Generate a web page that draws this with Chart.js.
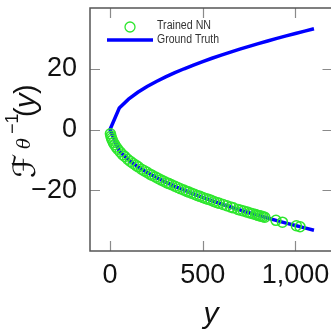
<!DOCTYPE html>
<html lang="en">
<head>
    <meta charset="UTF-8">
    <title>Inverse flow vs ground truth</title>
    <script src="https://cdn.jsdelivr.net/npm/chart.js@4"></script>
    <style>
        html, body { margin: 0; padding: 0; overflow: hidden; background: #fff; }
        /* a bit wider than the window: the right frame edge sits just off-screen */
        #wrap { width: 339px; height: 330px; position: relative; }
    </style>
</head>
<body>
    <div id="wrap"><canvas id="myChart"></canvas></div>
    <script>
        // Trained NN samples (x = y, y = F^-1(y))
        const nnX = [2, 5, 8, 12, 18, 25, 33, 42, 55, 68, 80, 95, 110, 125, 140, 152, 170, 185, 200, 215,
            228, 245, 260, 275, 290, 305, 318, 332, 350, 365, 380, 398, 412, 425, 440, 455, 470, 485, 500, 515,
            530, 545, 560, 575, 590, 610, 630, 650, 665, 690, 705, 720, 740, 755, 770, 785, 795, 805, 815, 825,
            835, 895, 930, 1005, 1025];
        const nnY = [-1.4, -2.2, -2.9, -3.5, -4.3, -5.0, -5.8, -6.5, -7.4, -8.3, -8.9, -9.8, -10.5, -11.2, -11.8, -12.3, -13.1, -13.6, -14.1, -14.7,
            -15.1, -15.6, -16.1, -16.6, -17.0, -17.5, -17.8, -18.2, -18.7, -19.1, -19.5, -19.9, -20.3, -20.6, -21.0, -21.3, -21.7, -22.0, -22.4, -22.7,
            -23.0, -23.3, -23.7, -24.0, -24.3, -24.7, -25.1, -25.5, -25.8, -26.3, -26.6, -26.8, -27.2, -27.5, -27.7, -28.0, -28.2, -28.4, -28.5, -28.7,
            -28.9, -29.9, -30.5, -31.7, -32.0];

        // Ground truth curve, lower branch back to origin then upper branch
        const gtX = [1100, 1050, 1000, 950, 900, 850, 800, 750, 700, 650, 600, 550, 500, 450, 400, 350, 300, 250, 200, 150, 100, 50, 0,
            50, 100, 150, 200, 250, 300, 350, 400, 450, 500, 550, 600, 650, 700, 750, 800, 850, 900, 950, 1000, 1050, 1100];
        const gtY = [-33.17, -32.4, -31.62, -30.82, -30.0, -29.15, -28.28, -27.39, -26.46, -25.5, -24.49, -23.45, -22.36, -21.21, -20.0, -18.71, -17.32, -15.81, -14.14, -12.25, -10.0, -7.07, 0,
            7.07, 10.0, 12.25, 14.14, 15.81, 17.32, 18.71, 20.0, 21.21, 22.36, 23.45, 24.49, 25.5, 26.46, 27.39, 28.28, 29.15, 30.0, 30.82, 31.62, 32.4, 33.17];

        const xTicks = [0, 500, 1000];
        const yTicks = [-20, 0, 20];
        const xRange = [-108, 1200];
        const yRange = [-40, 40];

        const GREEN = '#2ee62e';
        const BLUE = '#0000ff';
        const tickFont = { family: '"Liberation Sans", Arial, sans-serif', size: 27 };

        const toPoints = (xs, ys) => xs.map((x, i) => ({ x: x, y: ys[i] }));

        // chart.js pads the area for end tick labels; we don't want that here
        function noPad(s) {
            s.paddingTop = 0; s.paddingBottom = 0;
            s.paddingLeft = 0; s.paddingRight = 0;
        }

        // frame, inward tick marks, legend and axis titles
        const decorations = {
            id: 'decorations',
            afterDraw(chart) {
                const c = chart.ctx;
                const a = chart.chartArea;
                const xs = chart.scales.x, ys = chart.scales.y;
                c.save();

                // inward ticks on all four sides
                c.strokeStyle = '#8a8a8a';
                c.lineWidth = 1.2;
                c.beginPath();
                xTicks.forEach(v => {
                    const px = Math.round(xs.getPixelForValue(v)) + 0.5;
                    c.moveTo(px, a.bottom); c.lineTo(px, a.bottom - 10);
                    c.moveTo(px, a.top); c.lineTo(px, a.top + 10);
                });
                yTicks.forEach(v => {
                    const py = Math.round(ys.getPixelForValue(v)) + 0.5;
                    c.moveTo(a.left, py); c.lineTo(a.left + 10, py);
                    c.moveTo(a.right, py); c.lineTo(a.right - 10, py);
                });
                c.stroke();

                // frame
                c.strokeStyle = '#555';
                c.lineWidth = 1.5;
                c.strokeRect(a.left, a.top, a.right - a.left, a.bottom - a.top);

                // legend
                const ds = chart.data.datasets;
                c.strokeStyle = GREEN;
                c.lineWidth = 1.3;
                c.beginPath();
                c.arc(130, 27, 5, 0, Math.PI * 2);
                c.stroke();
                c.strokeStyle = BLUE;
                c.lineWidth = 3.5;
                c.beginPath();
                c.moveTo(107, 40); c.lineTo(153, 40);
                c.stroke();
                c.fillStyle = '#333';
                c.font = '12px "Liberation Sans", sans-serif';
                c.textBaseline = 'middle';
                c.textAlign = 'left';
                c.fillText(ds[0].label, 157, 26, 54);
                c.fillText(ds[1].label, 157, 40, 62);

                // x title
                c.fillStyle = '#111';
                c.font = 'italic 30px "Liberation Sans", sans-serif';
                c.textAlign = 'center';
                c.textBaseline = 'alphabetic';
                c.fillText('y', 211, 323);

                // y title: F_theta^{-1}(y), rotated
                c.translate(35, 178);
                c.rotate(-Math.PI / 2);
                c.textAlign = 'left';
                c.font = 'italic 31px "DejaVu Sans", sans-serif';
                c.fillText('\u2131', 0, 0);
                c.font = 'italic 18px "DejaVu Serif", serif';
                c.fillText('\u03b8', 29, -5);
                c.font = '18px "Liberation Sans", sans-serif';
                c.fillText('\u22121', 44, -17);
                c.font = '29px "Liberation Sans", sans-serif';
                c.fillText('(', 61, 0);
                c.font = 'italic 29px "Liberation Sans", sans-serif';
                c.fillText('y', 70, 0);
                c.font = '29px "Liberation Sans", sans-serif';
                c.fillText(')', 84, 0);

                c.restore();
            }
        };

        const ctx = document.getElementById('myChart').getContext('2d');
        const myChart = new Chart(ctx, {
            type: 'scatter',
            data: {
                datasets: [
                    {
                        label: 'Trained NN',
                        data: toPoints(nnX, nnY),
                        showLine: false,
                        pointStyle: 'circle',
                        pointRadius: 5,
                        pointBorderWidth: 1.5,
                        pointBorderColor: GREEN,
                        pointBackgroundColor: 'rgba(0,0,0,0)'
                    },
                    {
                        label: 'Ground Truth',
                        data: toPoints(gtX, gtY),
                        showLine: true,
                        borderColor: BLUE,
                        borderWidth: 3.5,
                        pointRadius: 0,
                        tension: 0
                    }
                ]
            },
            options: {
                animation: false,
                responsive: true,
                maintainAspectRatio: false,
                layout: { padding: { top: 8, right: 1, left: 0, bottom: 0 } },
                plugins: { legend: { display: false }, tooltip: { enabled: false } },
                scales: {
                    x: {
                        type: 'linear',
                        min: xRange[0],
                        max: xRange[1],
                        afterBuildTicks: s => { s.ticks = xTicks.map(v => ({ value: v })); },
                        afterFit: s => { s.height = 79; noPad(s); },
                        grid: { display: false, drawTicks: false },
                        border: { display: false },
                        ticks: { font: tickFont, color: '#111', padding: 8, maxRotation: 0 }
                    },
                    y: {
                        type: 'linear',
                        min: yRange[0],
                        max: yRange[1],
                        afterBuildTicks: s => { s.ticks = yTicks.map(v => ({ value: v })); },
                        afterFit: s => { s.width = 90; noPad(s); },
                        grid: { display: false, drawTicks: false },
                        border: { display: false },
                        ticks: {
                            font: tickFont, color: '#111', padding: 13,
                            callback: v => v < 0 ? '\u2212' + Math.abs(v) : String(v)
                        }
                    }
                }
            },
            plugins: [decorations]
        });
    </script>
</body>
</html>
